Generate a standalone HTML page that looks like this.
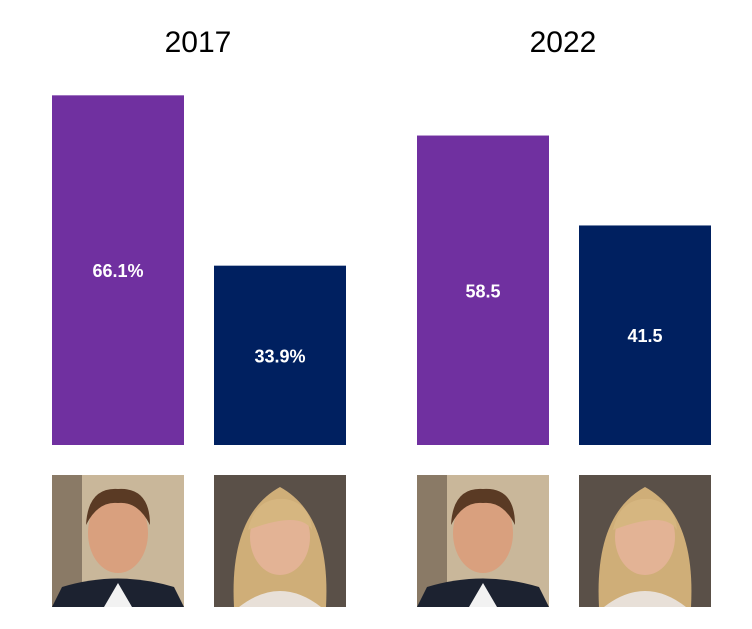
<!DOCTYPE html>
<html>
<head>
<meta charset="utf-8">
<style>
  html,body{margin:0;padding:0;background:#fff;}
  body{width:752px;height:624px;overflow:hidden;font-family:"Liberation Sans",sans-serif;}
</style>
</head>
<body>
<svg id="chart" width="752" height="624" xmlns="http://www.w3.org/2000/svg"></svg>
<script>
const years = ["2017", "2022"];
const candidates = ["macron", "le-pen"];
const values2017 = [66.1, 33.9];
const values2022 = [58.5, 41.5];
const labels2017 = ["66.1%", "33.9%"];
const labels2022 = ["58.5", "41.5"];

const svg = document.getElementById('chart');
const NS = "http://www.w3.org/2000/svg";
const baseY = 445, scale = 5.29, barW = 132;
const groupX = [52, 417];
const barOffset = [0, 162];
const colors = ["#7030A0", "#002060"];
function yFor(v){ return baseY - v*scale; }
function mk(tag, attrs){ const e=document.createElementNS(NS,tag); for(const k in attrs) e.setAttribute(k,attrs[k]); return e; }

const series = [values2017, values2022];
const labelSets = [labels2017, labels2022];

years.forEach((yr, g) => {
  const t = mk('text', {x: groupX[g] + 146, y: 52, 'text-anchor':'middle', 'font-size':30, fill:'#000'});
  
  
  t.textContent = yr;
  svg.appendChild(t);

  series[g].forEach((v, i) => {
    const x = groupX[g] + barOffset[i];
    const y = yFor(v);
    const r = mk('rect', {x, y, width: barW, height: baseY - y, fill: colors[i]});
    
    
    svg.appendChild(r);

    const l = mk('text', {x: x + barW/2, y: (y + baseY)/2 + 7, 'text-anchor':'middle', 'font-size':18, 'font-weight':'bold', fill:'#fff'});
    
    
    l.textContent = labelSets[g][i];
    svg.appendChild(l);

    // portrait placeholder
    const pg = mk('g', {});
    
    
    const py = 475, ph = 132, cx = x + barW/2;
    if (i === 0) {
      pg.appendChild(mk('rect', {x, y: py, width: barW, height: ph, fill:'#c9b79a'}));
      pg.appendChild(mk('rect', {x, y: py, width: 30, height: ph, fill:'#8a7a66'}));
      pg.appendChild(mk('path', {d:`M${x} ${py+ph} L${x+10} ${py+112} Q${cx} ${py+95} ${x+barW-10} ${py+112} L${x+barW} ${py+ph} Z`, fill:'#1c2230'}));
      pg.appendChild(mk('path', {d:`M${cx-14} ${py+ph} L${cx} ${py+108} L${cx+14} ${py+ph} Z`, fill:'#f2f2f2'}));
      pg.appendChild(mk('ellipse', {cx, cy: py+58, rx: 30, ry: 40, fill:'#d9a07e'}));
      pg.appendChild(mk('path', {d:`M${cx-32} ${py+50} Q${cx-30} ${py+12} ${cx} ${py+14} Q${cx+32} ${py+12} ${cx+32} ${py+50} Q${cx+20} ${py+26} ${cx} ${py+28} Q${cx-20} ${py+26} ${cx-32} ${py+50} Z`, fill:'#5a3a24'}));
    } else {
      pg.appendChild(mk('rect', {x, y: py, width: barW, height: ph, fill:'#5a5048'}));
      pg.appendChild(mk('path', {d:`M${x+20} ${py+ph} Q${x+15} ${py+40} ${cx} ${py+12} Q${x+barW-15} ${py+40} ${x+barW-20} ${py+ph} Z`, fill:'#cfae78'}));
      pg.appendChild(mk('path', {d:`M${x+25} ${py+ph} Q${cx} ${py+100} ${x+barW-25} ${py+ph} Z`, fill:'#e8e0d8'}));
      pg.appendChild(mk('ellipse', {cx, cy: py+62, rx: 30, ry: 38, fill:'#e3b395'}));
      pg.appendChild(mk('path', {d:`M${cx-32} ${py+55} Q${cx-25} ${py+22} ${cx+5} ${py+24} Q${cx+30} ${py+28} ${cx+32} ${py+55} Q${cx+20} ${py+35} ${cx-32} ${py+55} Z`, fill:'#d6b680'}));
    }
    svg.appendChild(pg);
  });
});
</script>
</body>
</html>
